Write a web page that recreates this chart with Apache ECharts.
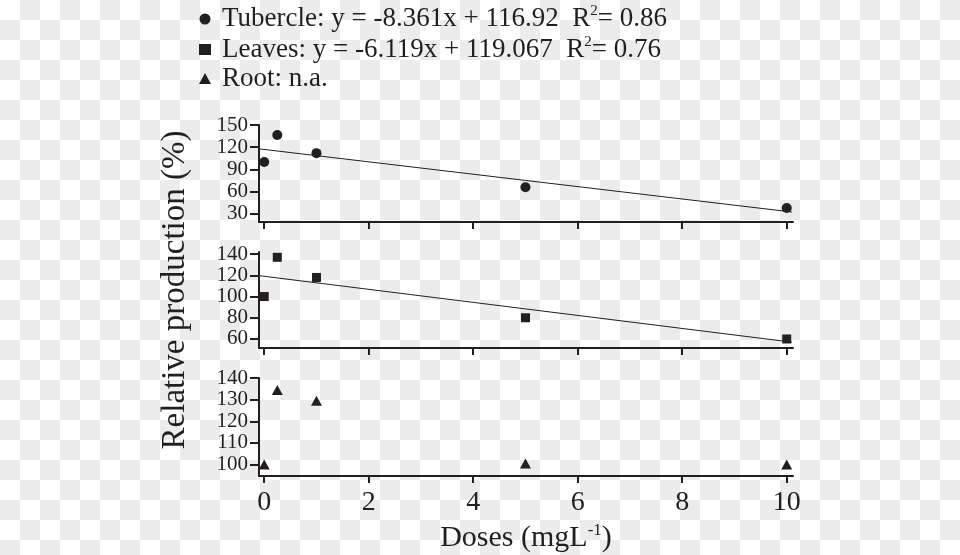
<!DOCTYPE html>
<html>
<head>
<meta charset="utf-8">
<script src="https://cdn.jsdelivr.net/npm/echarts@6/dist/echarts.min.js"></script>
<style>
html,body{margin:0;padding:0;}
body{width:960px;height:555px;background:repeating-conic-gradient(#ececec 0 25%, #ffffff 0 50%) 0 0/40px 40px;}
#chart{width:960px;height:555px;}
</style>
</head>
<body>
<div id="chart"></div>
<script>
// ---- data ----
const doses = [0, 0.25, 1, 5, 10];
const tubercle = [100, 136.5, 112, 66, 38];
const leaves = [100, 137, 118, 80, 60];
const root = [100, 134.5, 129.5, 100.5, 100];
// fitted regression lines (end points)
const fitX = [-0.1, 10.1];
const tubercleFit = [117.8, 32.5];
const leavesFit = [119.7, 57];
// tick labels
const xTicks = [0, 2, 4, 6, 8, 10];
const yTicks1 = [30, 60, 90, 120, 150];
const yTicks2 = [60, 80, 100, 120, 140];
const yTicks3 = [100, 110, 120, 130, 140];
const legendNames = ['Tubercle', 'Leaves', 'Root'];

const INK = '#231f20';
const FONT = 'Liberation Serif';
const pairs = (xs, ys) => xs.map((x, i) => [x, ys[i]]);

const grids = [
  {left: 259, width: 534, top: 125, height: 97},
  {left: 259, width: 534, top: 252, height: 96},
  {left: 259, width: 534, top: 378, height: 98}
];
function xAxis(i, showLabels) {
  return {
    type: 'value', gridIndex: i, min: -0.1, max: 10.12,
    axisLine: {show: true, onZero: false, lineStyle: {color: INK, width: 2}},
    axisTick: {show: true, customValues: xTicks, length: 7, lineStyle: {color: INK, width: 2}},
    axisLabel: {show: showLabels, customValues: xTicks, color: INK, fontFamily: FONT, fontSize: 28, margin: 13},
    splitLine: {show: false}
  };
}
function yAxis(i, min, max, ticks) {
  return {
    type: 'value', gridIndex: i, min: min, max: max,
    axisLine: {show: true, onZero: false, lineStyle: {color: INK, width: 2}},
    axisTick: {show: true, customValues: ticks, length: 9, lineStyle: {color: INK, width: 2}},
    axisLabel: {show: true, customValues: ticks, color: INK, fontFamily: FONT, fontSize: 21, margin: 11},
    splitLine: {show: false}
  };
}
const rich = {
  p: {fontFamily: FONT, fontSize: 27, color: INK, lineHeight: 30, padding: [0, 0, 0, 6]},
  t: {fontFamily: FONT, fontSize: 27, color: INK, lineHeight: 30},
  s: {fontFamily: FONT, fontSize: 15, color: INK, lineHeight: 30, verticalAlign: 'top', padding: [0, 0, 12, 0]}
};
const legendText = {
  Tubercle: '{p|Tubercle: y = -8.361x + 116.92  R}{s|2}{t|= 0.86}',
  Leaves: '{p|Leaves: y = -6.119x + 119.067  R}{s|2}{t|= 0.76}',
  Root: '{p|Root: n.a.}'
};

const chart = echarts.init(document.getElementById('chart'), null, {renderer: 'canvas'});
chart.setOption({
  backgroundColor: 'transparent',
  animation: false,
  grid: grids,
  xAxis: [xAxis(0, false), xAxis(1, false), Object.assign(xAxis(2, true), {
    name: '{t|Doses (mgL}{s|-1}{t|)}', nameLocation: 'middle', nameGap: 46,
    nameTextStyle: {rich: {
      t: {fontFamily: FONT, fontSize: 30, color: INK, lineHeight: 32},
      s: {fontFamily: FONT, fontSize: 17, color: INK, lineHeight: 32, verticalAlign: 'top', padding: [0, 0, 12, 0]}
    }}
  })],
  yAxis: [yAxis(0, 19, 150, yTicks1), yAxis(1, 51.5, 142, yTicks2), yAxis(2, 94.7, 140, yTicks3)],
  legend: {
    orient: 'vertical', left: 194, top: -1, itemGap: 2, itemWidth: 12, itemHeight: 11,
    data: legendNames, selectedMode: false,
    formatter: name => legendText[name],
    itemStyle: {opacity: 1},
    textStyle: {rich: rich}
  },
  graphic: [{
    type: 'text', x: 175, y: 290, rotation: Math.PI / 2,
    style: {text: 'Relative production (%)', font: '33px "Liberation Serif"', fill: INK, align: 'center', verticalAlign: 'middle'}
  }],
  series: [
    {name: 'Tubercle', type: 'scatter', xAxisIndex: 0, yAxisIndex: 0, symbol: 'circle', symbolSize: 10,
     itemStyle: {color: INK, opacity: 1}, data: pairs(doses, tubercle)},
    {name: 'Tubercle fit', type: 'line', xAxisIndex: 0, yAxisIndex: 0, showSymbol: false,
     lineStyle: {color: INK, width: 1}, data: pairs(fitX, tubercleFit)},
    {name: 'Leaves', type: 'scatter', xAxisIndex: 1, yAxisIndex: 1, symbol: 'rect', symbolSize: 9,
     itemStyle: {color: INK, opacity: 1}, data: pairs(doses, leaves)},
    {name: 'Leaves fit', type: 'line', xAxisIndex: 1, yAxisIndex: 1, showSymbol: false,
     lineStyle: {color: INK, width: 1}, data: pairs(fitX, leavesFit)},
    {name: 'Root', type: 'scatter', xAxisIndex: 2, yAxisIndex: 2, symbol: 'triangle', symbolSize: [11, 10],
     itemStyle: {color: INK, opacity: 1}, data: pairs(doses, root)}
  ]
});
</script>
</body>
</html>
